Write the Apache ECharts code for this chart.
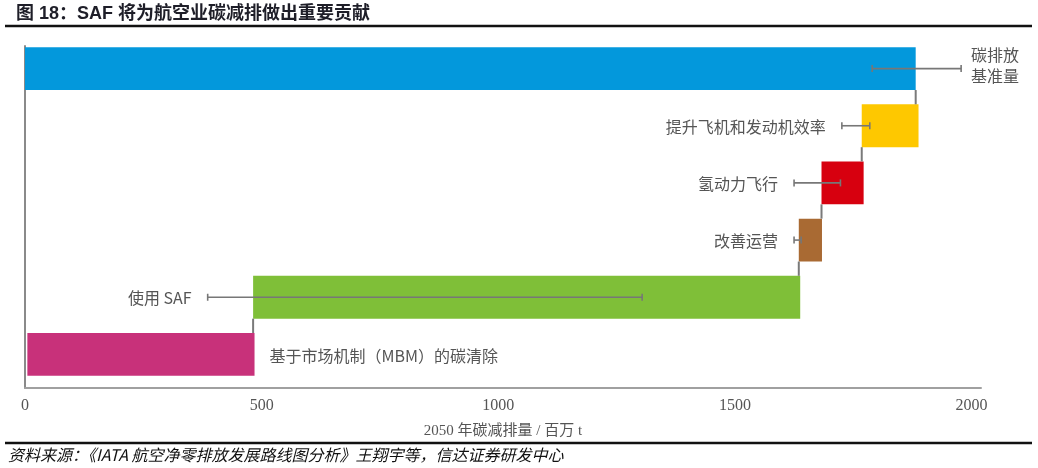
<!DOCTYPE html>
<html>
<head>
<meta charset="utf-8">
<script src="https://cdn.jsdelivr.net/npm/echarts@6/dist/echarts.min.js"></script>
<style>html,body{margin:0;padding:0;background:#fff}#c{width:1038px;height:468px}</style>
</head>
<body>
<div id="c"></div>
<script>
// ---- data ----
const categories = ['碳排放\n基准量', '提升飞机和发动机效率', '氢动力飞行', '改善运营', '使用 SAF', '基于市场机制（MBM）的碳清除'];
const barStart = [0, 1768, 1683, 1635, 482, 5];
const barEnd   = [1882, 1888, 1772, 1684, 1638, 485];
const errLow   = [1790, 1726, 1625, 1625, 386, null];
const errHigh  = [1978, 1785, 1723, 1640, 1304, null];
const xTickLabels = ['0', '500', '1000', '1500', '2000'];
const titleText = '图 18：SAF 将为航空业碳减排做出重要贡献';
const sourceText = '资料来源：《IATA 航空净零排放发展路线图分析》王翔宇等，信达证券研发中心';
const axisNameText = '2050 年碳减排量 / 百万 t';

// ---- styles ----
const barColors = ['#0398dc', '#fec800', '#d7000f', '#a96a33', '#7fbf38', '#c8317a'];
const cjk = '"Noto Sans CJK SC", "Noto Sans", sans-serif';
const serif = '"Liberation Serif", "DejaVu Serif", serif';

const chart = echarts.init(document.getElementById('c'));

const idx = categories.map((c, i) => i);

chart.setOption({
  animation: false,
  backgroundColor: '#fff',
  title: [
    { text: titleText, left: 16, top: 5, padding: 0,
      textStyle: { fontSize: 18, fontWeight: 'bold', color: '#1e1e28', fontFamily: '"Liberation Sans", ' + cjk } },
    { text: sourceText, left: 8, top: 447, padding: 0,
      textStyle: { fontSize: 16, fontWeight: 'normal', fontStyle: 'italic', color: '#111', fontFamily: cjk } }
  ],
  graphic: [
    { type: 'line', shape: { x1: 5, y1: 26, x2: 1032, y2: 26 }, style: { stroke: '#111', lineWidth: 2.5 } },
    { type: 'line', shape: { x1: 5, y1: 443, x2: 1032, y2: 443 }, style: { stroke: '#111', lineWidth: 2.5 } }
  ],
  grid: [
    { left: 25, right: 57, top: 40, bottom: 85 },
    { left: 25, right: 57, top: 46, bottom: 80 }
  ],
  xAxis: [
    { type: 'value', gridIndex: 0, min: 0, max: 2020, show: false },
    { type: 'value', gridIndex: 1, min: 0, max: 2020, interval: 500,
      axisLine: { show: true, onZero: false, lineStyle: { color: '#a0a0a0', width: 2 } },
      axisTick: { show: false }, splitLine: { show: false },
      axisLabel: { showMaxLabel: false, margin: 10, color: '#555', fontSize: 16, fontFamily: serif,
        formatter: v => xTickLabels[Math.round(v / 500)] ?? '' },
      name: axisNameText, nameLocation: 'middle', nameGap: 36,
      nameTextStyle: { color: '#555', fontSize: 15, fontFamily: serif + ', ' + cjk } }
  ],
  yAxis: [
    { type: 'category', gridIndex: 0, data: categories, inverse: true, show: false },
    { type: 'value', gridIndex: 1, min: 0, max: 1, show: true,
      axisLine: { show: true, onZero: false, lineStyle: { color: '#8a8a8a', width: 2 } },
      axisTick: { show: false }, axisLabel: { show: false }, splitLine: { show: false } }
  ],
  series: [
    { type: 'bar', name: 'base', stack: 'w', xAxisIndex: 0, yAxisIndex: 0, barWidth: '75%', silent: true,
      itemStyle: { color: 'rgba(0,0,0,0)' }, data: barStart },
    { type: 'bar', name: 'value', stack: 'w', xAxisIndex: 0, yAxisIndex: 0, barWidth: '75%', silent: true,
      data: idx.map(i => ({ value: barEnd[i] - barStart[i], itemStyle: { color: barColors[i] } })) },
    { type: 'custom', name: 'connectors', xAxisIndex: 0, yAxisIndex: 0, silent: true, z: 3,
      data: idx.slice(0, categories.length - 1).map(i => [i === 0 ? barEnd[0] : barStart[i], i]),
      encode: { x: 0, y: 1 },
      renderItem(params, api) {
        const i = params.dataIndex;
        const xv = api.value(0);
        const h = api.size([0, 1])[1] * 0.75;
        const p1 = api.coord([xv, i]);
        const p2 = api.coord([xv, i + 1]);
        return { type: 'line', shape: { x1: p1[0], y1: p1[1] + h / 2, x2: p2[0], y2: p2[1] - h / 2 },
          style: { stroke: '#7a7a7a', lineWidth: 2 } };
      } },
    { type: 'custom', name: 'errors', xAxisIndex: 0, yAxisIndex: 0, silent: true, z: 4,
      data: idx.map(i => [errLow[i] ?? barEnd[i], i]),
      encode: { x: 0, y: 1 },
      renderItem(params, api) {
        const i = params.dataIndex;
        const y = api.coord([0, i])[1];
        const children = [];
        let tx, align, dy = 1;
        if (errLow[i] != null) {
          const a = api.coord([errLow[i], i])[0];
          const b = api.coord([errHigh[i], i])[0];
          const st = { stroke: '#777', lineWidth: 1.6 };
          children.push({ type: 'line', shape: { x1: a, y1: y, x2: b, y2: y }, style: st });
          children.push({ type: 'line', shape: { x1: a, y1: y - 3.5, x2: a, y2: y + 3.5 }, style: st });
          children.push({ type: 'line', shape: { x1: b, y1: y - 3.5, x2: b, y2: y + 3.5 }, style: st });
          if (i === 0) { tx = b + 10; align = 'left'; dy = -3; } else { tx = a - 16; align = 'right'; }
        } else {
          tx = api.coord([barEnd[i], i])[0] + 15; align = 'left'; dy = 2;
        }
        children.push({ type: 'text', x: tx, y: y + dy,
          style: { text: categories[i], fill: '#555', fontSize: 16, fontFamily: cjk,
            align: align, verticalAlign: 'middle', textAlign: align, textVerticalAlign: 'middle', lineHeight: 21 } });
        return { type: 'group', children };
      } }
  ]
});
</script>
</body>
</html>
